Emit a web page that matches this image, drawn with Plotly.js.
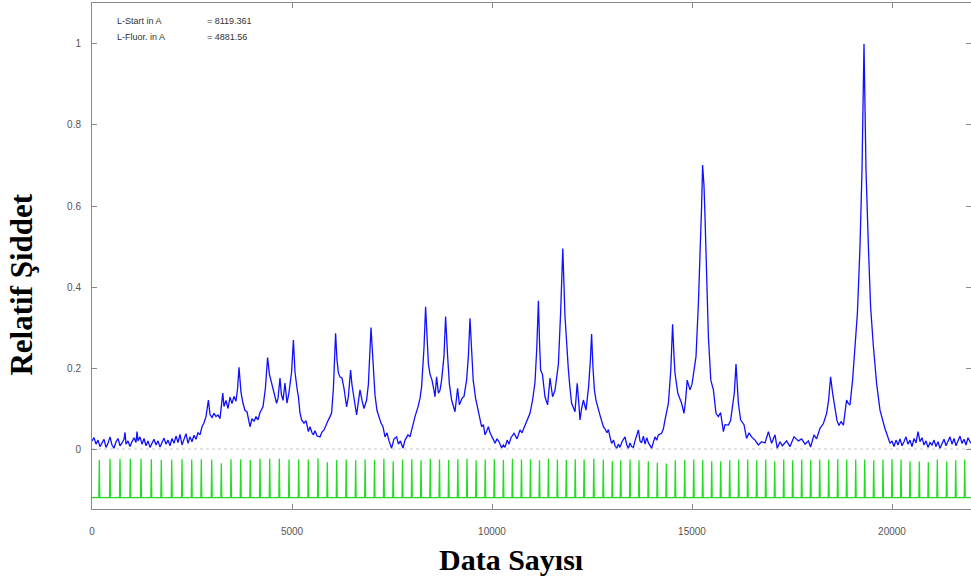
<!DOCTYPE html>
<html>
<head>
<meta charset="utf-8">
<script src="https://cdn.plot.ly/plotly-3.0.1.min.js"></script>
<style>
  html, body { margin: 0; padding: 0; background: #fff; }
  #chart { width: 971px; height: 578px; }
</style>
</head>
<body>
<div id="chart"></div>
<script>
// Spectrum: data index vs. relative intensity
const dataIndex = [
  0,50,100,150,200,250,300,350,400,450,500,550,600,650,700,750,800,825,850,900,
  950,1000,1050,1100,1125,1150,1200,1250,1300,1350,1400,1450,1500,1550,1600,1650,1700,1750,1800,1850,
  1900,1950,2000,2050,2100,2150,2200,2250,2300,2350,2400,2450,2500,2550,2600,2650,2700,2750,2800,2850,
  2910,2950,3000,3050,3100,3150,3200,3270,3300,3350,3400,3450,3500,3550,3600,3640,3675,3725,3775,3825,
  3875,3950,4000,4050,4100,4150,4200,4275,4335,4390,4435,4485,4535,4615,4650,4700,4735,4775,4825,4875,
  4925,4990,5035,5075,5125,5160,5200,5240,5300,5350,5410,5450,5500,5535,5575,5625,5700,5750,5800,5850,
  5910,5950,5990,6035,6090,6125,6160,6200,6250,6300,6365,6410,6465,6500,6550,6615,6650,6700,6750,6800,
  6865,6910,6975,7025,7075,7125,7175,7225,7275,7325,7375,7425,7490,7550,7615,7660,7710,7775,7825,7900,
  7950,8025,8075,8150,8200,8240,8300,8340,8375,8410,8450,8500,8540,8575,8615,8660,8700,8740,8800,8840,
  8890,8935,8990,9075,9140,9185,9250,9300,9365,9410,9450,9490,9530,9590,9660,9700,9740,9785,9825,9870,
  9910,9950,9990,10040,10075,10125,10175,10240,10285,10325,10380,10425,10475,10550,10625,10700,10750,10800,10865,10910,
  10950,11015,11075,11120,11160,11190,11215,11260,11325,11390,11450,11485,11515,11575,11660,11715,11770,11825,11870,11910,
  11950,11990,12075,12130,12165,12200,12240,12285,12350,12415,12460,12490,12525,12560,12600,12660,12710,12785,12825,12875,
  12910,12950,12990,13040,13075,13120,13160,13200,13250,13325,13370,13410,13450,13490,13535,13575,13660,13700,13740,13785,
  13825,13870,13910,13990,14040,14075,14120,14160,14240,14285,14325,14410,14470,14515,14550,14575,14645,14690,14740,14800,
  14840,14880,14950,15000,15050,15100,15160,15200,15240,15265,15300,15325,15365,15410,15470,15535,15600,15660,15715,15785,
  15825,15910,15965,16015,16060,16100,16130,16160,16215,16300,16365,16425,16490,16575,16660,16740,16825,16910,16990,17075,
  17130,17200,17260,17365,17450,17550,17660,17740,17825,17910,17965,18050,18115,18200,18285,18365,18415,18465,18515,18575,
  18625,18675,18725,18785,18865,18910,18950,19015,19075,19135,19200,19250,19300,19350,19410,19465,19535,19615,19700,19740,
  19785,19825,19865,19910,19950,20000,20050,20100,20150,20200,20250,20300,20350,20400,20450,20500,20550,20600,20650,20700,
  20750,20800,20850,20900,20950,21000,21050,21100,21150,21200,21250,21300,21350,21400,21450,21500,21550,21600,21650,21700,
  21750,21800,21850,21900,21950,22000
];
const relIntensity = [
  0.020,0.028,0.012,0.022,0.006,0.016,0.024,0.004,0.014,0.030,0.010,0.002,0.018,0.026,0.008,0.015,0.024,0.041,0.012,0.020,
  0.006,0.018,0.028,0.016,0.043,0.020,0.030,0.012,0.026,0.008,0.020,0.004,0.016,0.024,0.010,0.020,0.005,0.018,0.027,0.012,
  0.022,0.008,0.026,0.014,0.032,0.016,0.036,0.010,0.026,0.038,0.014,0.030,0.018,0.034,0.024,0.040,0.035,0.055,0.065,0.080,
  0.121,0.085,0.078,0.088,0.080,0.084,0.075,0.138,0.105,0.120,0.100,0.128,0.112,0.130,0.118,0.150,0.202,0.140,0.113,0.095,
  0.092,0.055,0.075,0.068,0.080,0.072,0.090,0.104,0.150,0.226,0.185,0.165,0.150,0.113,0.125,0.175,0.135,0.120,0.163,0.113,
  0.140,0.190,0.269,0.190,0.150,0.129,0.089,0.072,0.064,0.070,0.043,0.055,0.040,0.035,0.045,0.032,0.030,0.042,0.047,0.060,
  0.072,0.080,0.089,0.150,0.286,0.220,0.188,0.178,0.175,0.150,0.104,0.130,0.195,0.158,0.130,0.084,0.110,0.146,0.120,0.100,
  0.121,0.160,0.300,0.200,0.133,0.095,0.080,0.064,0.055,0.030,0.040,0.020,0.002,0.025,0.030,0.012,0.020,0.002,0.022,0.035,
  0.030,0.064,0.080,0.104,0.125,0.154,0.250,0.351,0.270,0.210,0.185,0.170,0.150,0.129,0.178,0.138,0.145,0.170,0.230,0.327,
  0.230,0.160,0.121,0.092,0.150,0.109,0.125,0.130,0.170,0.230,0.323,0.240,0.170,0.125,0.090,0.075,0.055,0.060,0.035,0.045,
  0.055,0.040,0.030,0.022,0.014,0.025,0.018,0.003,0.010,0.004,0.022,0.012,0.028,0.039,0.025,0.047,0.040,0.052,0.067,0.075,
  0.088,0.121,0.165,0.250,0.366,0.260,0.195,0.185,0.129,0.109,0.175,0.150,0.129,0.145,0.210,0.335,0.495,0.327,0.250,0.195,
  0.150,0.113,0.092,0.162,0.120,0.072,0.100,0.121,0.096,0.154,0.220,0.284,0.200,0.146,0.120,0.096,0.080,0.055,0.050,0.040,
  0.048,0.030,0.014,0.022,0.008,0.002,0.012,0.004,0.018,0.030,0.010,0.002,0.015,0.006,0.004,0.020,0.047,0.020,0.015,0.032,
  0.012,0.028,0.015,0.002,0.018,0.030,0.022,0.035,0.039,0.050,0.072,0.113,0.195,0.308,0.230,0.187,0.138,0.125,0.113,0.088,
  0.120,0.170,0.146,0.160,0.190,0.228,0.360,0.458,0.600,0.701,0.650,0.574,0.409,0.277,0.170,0.146,0.088,0.080,0.090,0.043,
  0.060,0.059,0.070,0.109,0.140,0.210,0.160,0.113,0.072,0.060,0.026,0.040,0.030,0.022,0.010,0.018,0.015,0.043,0.014,0.035,
  0.002,0.018,0.008,0.020,0.006,0.030,0.020,0.025,0.012,0.020,0.005,0.035,0.025,0.051,0.063,0.088,0.120,0.178,0.138,0.096,
  0.070,0.058,0.068,0.059,0.121,0.112,0.109,0.170,0.253,0.335,0.500,0.689,1.000,0.689,0.500,0.351,0.253,0.162,0.096,0.080,
  0.059,0.050,0.039,0.025,0.014,0.020,0.006,0.022,0.010,0.025,0.008,0.018,0.030,0.012,0.022,0.006,0.026,0.015,0.043,0.018,
  0.028,0.010,0.020,0.004,0.016,0.010,0.022,0.006,0.018,0.002,0.014,0.024,0.008,0.020,0.030,0.012,0.026,0.008,0.018,0.032,
  0.014,0.024,0.010,0.028,0.018,0.012
];

// Calibration marks (green comb)
const markIndex = [
  183,450,700,958,1225,1483,1733,1993,2250,2493,2733,2993,3233,3475,3718,3958,4200,4443,4683,4925,
  5168,5408,5650,5883,6118,6355,6592,6828,7063,7297,7530,7763,7995,8226,8457,8687,8917,9146,9375,9603,
  9831,10058,10285,10511,10737,10962,11187,11411,11635,11858,12081,12303,12545,12783,13008,13218,13450,13675,13908,14133,
  14358,14583,14818,15043,15268,15493,15718,15943,16168,16393,16618,16843,17068,17293,17518,17743,17968,18193,18418,18643,
  18868,19093,19318,19543,19775,20000,20225,20450,20683,20908,21133,21368,21593,21818
];
const markTop = [
  -0.027,-0.024,-0.024,-0.024,-0.024,-0.025,-0.027,-0.026,-0.025,-0.026,-0.025,-0.026,-0.035,-0.025,-0.025,-0.027,-0.024,-0.024,-0.024,-0.026,
  -0.025,-0.026,-0.023,-0.033,-0.027,-0.026,-0.028,-0.025,-0.027,-0.024,-0.030,-0.026,-0.025,-0.028,-0.024,-0.026,-0.027,-0.025,-0.024,-0.028,
  -0.026,-0.025,-0.027,-0.024,-0.026,-0.025,-0.028,-0.024,-0.026,-0.027,-0.025,-0.026,-0.024,-0.026,-0.030,-0.028,-0.026,-0.028,-0.030,-0.034,
  -0.036,-0.028,-0.027,-0.026,-0.027,-0.030,-0.030,-0.028,-0.026,-0.026,-0.028,-0.026,-0.030,-0.026,-0.028,-0.026,-0.027,-0.026,-0.026,-0.025,
  -0.026,-0.026,-0.026,-0.028,-0.026,-0.025,-0.026,-0.030,-0.031,-0.033,-0.026,-0.031,-0.028,-0.026
];
const markBase = -0.12;

const combX = [0];
const combY = [markBase];
markIndex.forEach((p, i) => {
  combX.push(p - 12, p, p + 12);
  combY.push(markBase, markTop[i], markBase);
});
combX.push(22000);
combY.push(markBase);

const xTicks = [0, 5000, 10000, 15000, 20000];
const yTicks = [0, 0.2, 0.4, 0.6, 0.8, 1];

const traces = [
  {
    x: combX, y: combY, type: 'scatter', mode: 'lines',
    line: { color: '#22dd22', width: 1.3 },
    hoverinfo: 'skip', showlegend: false
  },
  {
    x: dataIndex, y: relIntensity, type: 'scatter', mode: 'lines',
    line: { color: '#1010ff', width: 1.3 },
    showlegend: false
  }
];

const axisCommon = {
  showline: true, linecolor: '#8a8a8a', linewidth: 1, mirror: 'ticks',
  ticks: 'inside', ticklen: 5, tickcolor: '#8a8a8a', tickwidth: 1,
  showgrid: false, zeroline: false,
  tickfont: { family: 'Liberation Sans, Arial, sans-serif', size: 10, color: '#555' }
};

const layout = {
  width: 971, height: 578,
  margin: { l: 92, r: 0, t: 3, b: 69, pad: 0 },
  paper_bgcolor: '#fff', plot_bgcolor: '#fff',
  xaxis: Object.assign({}, axisCommon, {
    range: [0, 21975], tickvals: xTicks, ticktext: xTicks.map(String),
    ticklabelstandoff: 13
  }),
  yaxis: Object.assign({}, axisCommon, {
    range: [-0.1481, 1.1012], tickvals: yTicks, ticktext: ['0', '0.2', '0.4', '0.6', '0.8', '1'],
    ticklabelstandoff: 8
  }),
  shapes: [
    { type: 'line', xref: 'paper', yref: 'y', x0: 0, x1: 1, y0: 0, y1: 0,
      line: { color: '#c8c8c8', width: 1, dash: 'dot' }, layer: 'below' }
  ],
  annotations: [
    { text: 'L-Start in A', xref: 'paper', yref: 'paper', x: 0.026, y: 0.965, xanchor: 'left', yanchor: 'middle',
      showarrow: false, font: { family: 'Liberation Sans, Arial, sans-serif', size: 9, color: '#333' } },
    { text: '= 8119.361', xref: 'paper', yref: 'paper', x: 0.128, y: 0.965, xanchor: 'left', yanchor: 'middle',
      showarrow: false, font: { family: 'Liberation Sans, Arial, sans-serif', size: 9, color: '#333' } },
    { text: 'L-Fluor. in A', xref: 'paper', yref: 'paper', x: 0.026, y: 0.933, xanchor: 'left', yanchor: 'middle',
      showarrow: false, font: { family: 'Liberation Sans, Arial, sans-serif', size: 9, color: '#333' } },
    { text: '= 4881.56', xref: 'paper', yref: 'paper', x: 0.128, y: 0.933, xanchor: 'left', yanchor: 'middle',
      showarrow: false, font: { family: 'Liberation Sans, Arial, sans-serif', size: 9, color: '#333' } },
    { text: '<b>Data Sayısı</b>', xref: 'paper', yref: 'paper', x: 0.477, y: -0.1, xanchor: 'center', yanchor: 'middle',
      showarrow: false, font: { family: 'Liberation Serif, Times New Roman, serif', size: 30, color: '#000' } },
    { text: '<b>Relatif Şiddet</b>', xref: 'paper', yref: 'paper', x: -0.080, y: 0.443, xanchor: 'center', yanchor: 'middle',
      textangle: -90, showarrow: false, font: { family: 'Liberation Serif, Times New Roman, serif', size: 31, color: '#000' } }
  ]
};

Plotly.newPlot('chart', traces, layout, { staticPlot: true, displayModeBar: false });
</script>
</body>
</html>
